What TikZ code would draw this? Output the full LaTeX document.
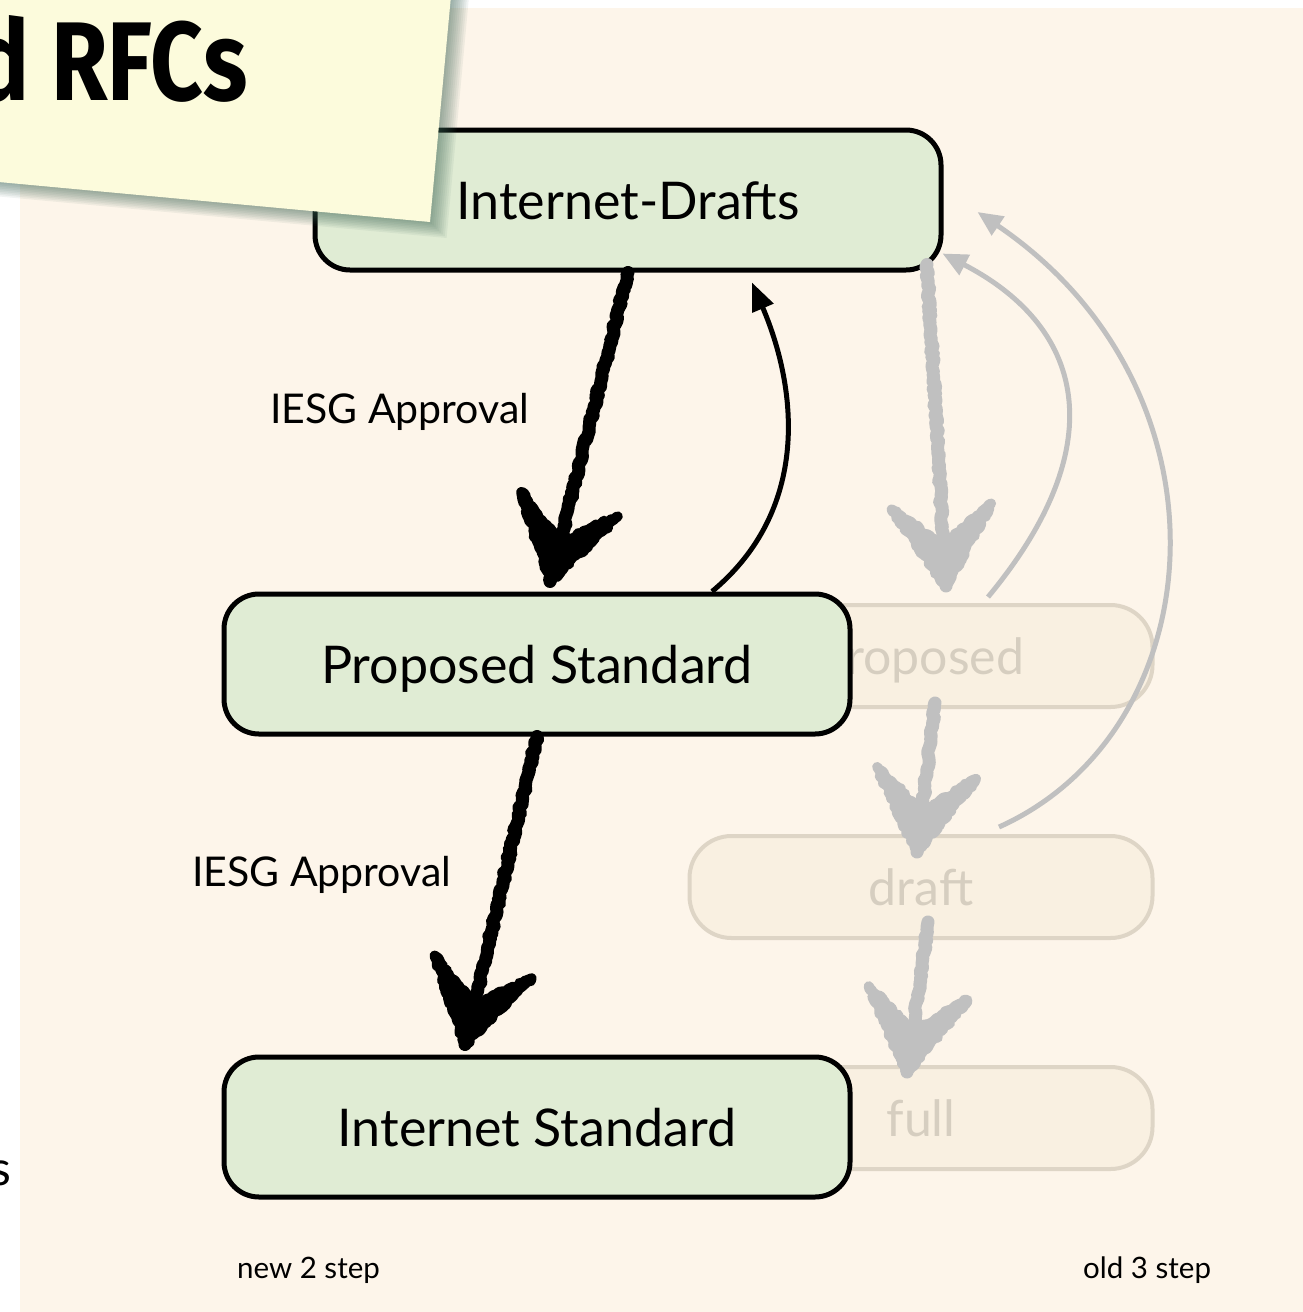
\documentclass[tikz,border=0pt]{standalone}
\usepackage{fontspec}
\setmainfont{Lato}
\newfontfamily\notefont{Fira Sans}
\usetikzlibrary{positioning,calc,arrows.meta,decorations.pathmorphing}

\definecolor{panelbg}{RGB}{253,245,234}
\definecolor{boxgreen}{RGB}{224,236,212}
\definecolor{noteyellow}{RGB}{252,251,220}
\definecolor{noteshadow}{RGB}{60,100,85}
\definecolor{oldfill}{RGB}{249,240,225}
\definecolor{oldline}{RGB}{222,213,198}
\definecolor{oldtext}{RGB}{214,206,192}
\definecolor{greyarrow}{RGB}{192,192,192}

% hand drawn arrow: colour, from, to
\newcommand\sketcharrow[3]{%
  \draw[sketchline, draw=#1] #2 -- #3;
  \filldraw[sketchhead, draw=#1, fill=#1] #3 -- ($#3!94pt!32:#2$) -- ($#3!40pt!#2$) -- ($#3!94pt!-32:#2$) -- cycle;
}

\begin{document}
\begin{tikzpicture}[
    x=1pt, y=-1pt,
    newbox/.style={draw=black, line width=5pt, fill=boxgreen, rounded corners=35pt,
      minimum width=626pt, minimum height=140pt, text height=38pt, text depth=0pt,
      font=\fontsize{52}{60}\selectfont},
    oldbox/.style={draw=oldline, line width=4pt, fill=oldfill, rounded corners=42pt,
      minimum width=463pt, minimum height=102pt, text height=37pt, text depth=0pt,
      text=oldtext, font=\fontsize{50}{58}\selectfont},
    approvaltext/.style={anchor=base west, inner sep=0pt, font=\fontsize{41}{48}\selectfont},
    steptext/.style={anchor=base west, inner sep=0pt, font=\fontsize{29.5}{35}\selectfont},
    sketchline/.style={line width=13pt, line join=round, line cap=round, decorate,
      decoration={random steps, segment length=3pt, amplitude=1.5pt}},
    sketchhead/.style={line width=10pt, line join=round, decorate,
      decoration={random steps, segment length=3pt, amplitude=1.8pt}},
    backarrow/.style={line width=5pt, -{Triangle[length=28pt, width=22pt]}},
    greyback/.style={greyarrow, line width=5pt, -{Triangle[length=25pt, width=22pt]}}
]
\useasboundingbox (0,0) rectangle (1303,1312);
\clip (0,0) rectangle (1303,1312);
\fill[white] (0,0) rectangle (1303,1312);
\fill[panelbg] (20,8) rectangle (1303,1312);

% old 3 step
\node[oldbox] (oldproposed) at (921,656) {proposed};
\node[oldbox, below=125pt of oldproposed] (olddraft) {draft};
\node[oldbox, below=125pt of olddraft] (oldfull) {full};

% new 2 step
\node[newbox] (drafts) at (628,200) {Internet-Drafts};
\node[newbox] (proposed) at (537,664) {Proposed Standard};
\node[newbox] (standard) at (537,1127) {Internet Standard};

% grey arrows
\coordinate (g1a) at ($(drafts.south)+(299,-8)$);
\coordinate (g1b) at ($(oldproposed.north)+(25,-17)$);
\coordinate (g2a) at ($(oldproposed.south)+(14,-6)$);
\coordinate (g2b) at ($(olddraft.north)+(-4,18)$);
\coordinate (g3a) at ($(olddraft.south)+(7,-18)$);
\coordinate (g3b) at ($(oldfull.north)+(-14,7)$);
\sketcharrow{greyarrow}{(g1a)}{(g1b)}
\sketcharrow{greyarrow}{(g2a)}{(g2b)}
\sketcharrow{greyarrow}{(g3a)}{(g3b)}
\draw[greyback] ($(oldproposed.north)+(67,-6)$) .. controls (1110,450) and (1090,330) .. ($(drafts.south east)+(-1,-19)$);
\draw[greyback] ($(olddraft.north)+(78,-7)$) .. controls (1215,730) and (1240,390) .. ($(drafts.east)+(34,12)$);

% black arrows
\coordinate (b1b) at ($(proposed.north)+(13,-10)$);
\coordinate (b2b) at ($(standard.north)+(-72,-10)$);
\sketcharrow{black}{(drafts.south)}{(b1b)}
\sketcharrow{black}{(proposed.south)}{(b2b)}
\draw[backarrow] ($(proposed.north)+(175,0)$) .. controls (810,510) and (798,390) .. ($(drafts.south)+(124,10)$);

\node[approvaltext] (approvalone) at (270,423) {IESG Approval};
\node[approvaltext] (approvaltwo) at (192,886) {IESG Approval};
\node[steptext] (newstep) at (237,1278) {new 2 step};
\node[steptext] (oldstep) at (1083,1278) {old 3 step};
\node[anchor=base east, inner sep=0pt, font=\fontsize{48}{56}\selectfont] (cuttext) at (11,1185) {s};

% sticky note
\begin{scope}[shift={(430,222)}, rotate=-5.3]
  \foreach \s in {2,4,...,18}
    \fill[noteshadow, opacity=0.07] (-600+\s*0.5,-400+\s) rectangle (\s,\s*0.8);
  \fill[noteyellow] (-600,-400) rectangle (0,0);
  \node[anchor=base east, inner sep=0pt, xscale=0.82,
    font=\notefont\bfseries\fontsize{112}{120}\selectfont] (notetitle) at (-193,-104) {d RFCs};
\end{scope}
\end{tikzpicture}
\end{document}
